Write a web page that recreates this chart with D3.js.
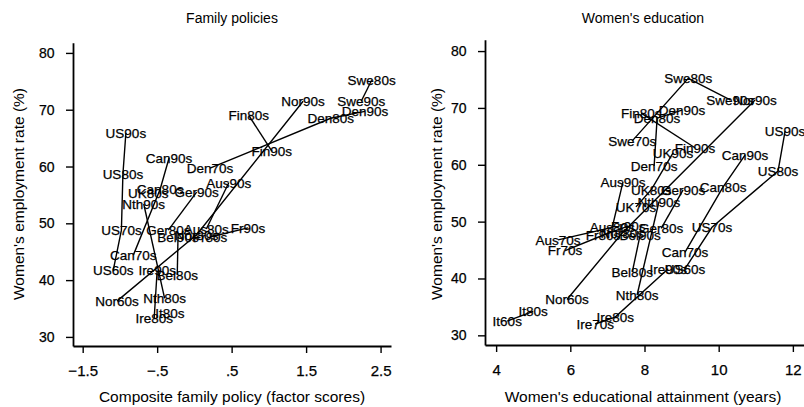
<!DOCTYPE html>
<html>
<head>
<meta charset="utf-8">
<script src="https://cdn.jsdelivr.net/npm/d3@7"></script>
<style>
  body { margin: 0; background: #fff; }
  svg { display: block; font-family: "Liberation Sans", Arial, sans-serif; }
</style>
</head>
<body>
<svg id="chart" width="804" height="407"></svg>
<script>
// Left panel: composite family policy (factor scores) vs women's employment rate
const policyLabels = ["Swe80s","Swe90s","Den70s","Den80s","Den90s","Nor60s","Nor80s","Nor90s","Fin80s","Fin90s",
  "US60s","US70s","US80s","US90s","Can70s","Can80s","Can90s","UK80s","Ger80s","Ger90s",
  "Nth80s","Nth90s","Aus80s","Aus90s","Fr80s","Fr90s","Bel80s","Bel90s","Ire80s","Ire90s","It80s"];
const policyX = [2.38,2.24,0.21,1.83,2.29,-1.04,0.03,1.46,0.73,1.04,
  -1.09,-0.98,-0.96,-0.92,-0.82,-0.46,-0.34,-0.62,-0.35,0.03,
  -0.40,-0.68,0.16,0.46,0.21,0.72,-0.23,-0.22,-0.54,-0.50,-0.33];
const policyY = [75.2,71.5,59.7,68.5,69.7,36.3,48.0,71.5,69.0,62.7,
  41.7,48.8,58.6,65.9,44.4,56.0,61.5,55.3,48.8,55.5,
  36.8,53.4,49.0,57.1,47.6,49.2,40.9,47.6,33.3,41.7,34.2];

// Right panel: women's educational attainment (years) vs women's employment rate
const eduLabels = ["Swe70s","Swe80s","Swe90s","Nor60s","Nor80s","Nor90s","Den70s","Den80s","Den90s","Fin80s","Fin90s",
  "UK70s","UK80s","UK90s","US60s","US70s","US80s","US90s","Can70s","Can80s","Can90s","Ger80s","Ger90s",
  "Nth80s","Nth90s","Aus70s","Aus80s","Aus90s","Fr70s","Fr80s","Fr90s","Bel80s","Bel90s",
  "It60s","It80s","Ire70s","Ire80s","Ire90s"];
const eduX = [7.67,9.18,10.31,5.91,7.40,10.98,8.26,8.34,9.01,7.91,9.36,
  7.77,8.18,8.77,9.09,9.82,11.60,11.79,9.09,10.12,10.71,8.45,9.04,
  7.80,8.39,5.67,7.13,7.42,5.86,6.88,7.56,7.67,7.88,
  4.30,5.00,6.67,7.21,8.64];
const eduY = [64.2,75.2,71.4,36.3,48.0,71.4,59.8,68.2,69.6,69.1,63.0,
  52.6,55.6,62.1,41.7,49.0,58.9,65.9,44.6,56.1,61.7,48.8,55.6,
  37.1,53.5,46.8,49.0,57.0,44.9,47.6,49.2,41.1,47.6,
  32.5,34.2,32.0,33.2,41.7];

const policyTicks = [-1.5,-0.5,0.5,1.5,2.5];
const policyTickText = ["\u22121.5","\u2212.5",".5","1.5","2.5"];
const eduTicks = [4,6,8,10,12];
const rateTicks = [30,40,50,60,70,80];

const svg = d3.select("#chart");

function panel(opt) {
  const g = svg.append("g");
  const x = d3.scaleLinear().domain(opt.xDomain).range(opt.xRange);
  const y = d3.scaleLinear().domain(opt.yDomain).range(opt.yRange);

  const pts = opt.labels.map((l, i) => ({
    label: l,
    country: l.replace(/\d0s$/, ""),
    decade: +l.match(/(\d)0s$/)[1],
    x: opt.xs[i], y: opt.ys[i]
  }));

  // trajectories: each country's decades joined in time order
  const byCountry = d3.groups(pts, d => d.country);
  const line = d3.line().x(d => x(d.x)).y(d => y(d.y));
  g.append("g").selectAll("path")
    .data(byCountry.map(([, v]) => v.slice().sort((a, b) => a.decade - b.decade)))
    .join("path")
    .attr("d", line)
    .attr("fill", "none")
    .attr("stroke", "#000")
    .attr("stroke-width", 1.4);

  g.append("g").selectAll("text")
    .data(pts)
    .join("text")
    .attr("x", d => x(d.x))
    .attr("y", d => y(d.y))
    .attr("dy", "0.36em")
    .attr("text-anchor", "middle")
    .attr("font-size", 13.5)
    .attr("fill", "#000")
    .attr("stroke", "#000")
    .attr("stroke-width", 0.25)
    .text(d => d.label);

  // axes
  const xAxis = d3.axisBottom(x).tickValues(opt.xTicks).tickSize(7).tickSizeOuter(0)
    .tickFormat((d, i) => opt.xTickText ? opt.xTickText[i] : d);
  const gx = g.append("g").attr("transform", `translate(0,${opt.yRange[0]})`).call(xAxis);
  gx.select(".domain").attr("stroke-width", 1.8);
  gx.selectAll(".tick line").attr("stroke-width", 1.4);
  gx.selectAll(".tick text").attr("font-size", 15).attr("dy", "1.3em")
    .attr("font-family", "Liberation Sans, Arial, sans-serif").attr("fill", "#000")
    .attr("stroke", "#000").attr("stroke-width", 0.25);

  const yAxis = d3.axisLeft(y).tickValues(rateTicks).tickSize(7).tickSizeOuter(0);
  const gy = g.append("g").attr("transform", `translate(${opt.xRange[0]},0)`).call(yAxis);
  gy.select(".domain").attr("stroke-width", 1.8);
  gy.selectAll(".tick line").attr("stroke-width", 1.4);
  gy.selectAll(".tick text").attr("font-size", 14).attr("dx", "-0.6em")
    .attr("font-family", "Liberation Sans, Arial, sans-serif").attr("fill", "#000")
    .attr("stroke", "#000").attr("stroke-width", 0.25);

  g.append("text").attr("x", opt.titleX).attr("y", 23).attr("text-anchor", "middle")
    .attr("font-size", 14).text(opt.title);
  g.append("text").attr("x", opt.titleX).attr("y", 402).attr("text-anchor", "middle")
    .attr("font-size", 15.5).text(opt.xTitle);
  g.append("text")
    .attr("transform", `translate(${opt.yTitleX},${opt.yTitleY}) rotate(-90)`)
    .attr("text-anchor", "middle").attr("font-size", 15.5).text("Women's employment rate (%)");
}

panel({
  labels: policyLabels, xs: policyX, ys: policyY,
  xDomain: [-1.63, 2.64], xRange: [73, 391],
  yDomain: [28.4, 81.8], yRange: [346, 42.7],
  xTicks: policyTicks, xTickText: policyTickText,
  title: "Family policies", xTitle: "Composite family policy (factor scores)",
  titleX: 232, yTitleX: 24, yTitleY: 194
});

panel({
  labels: eduLabels, xs: eduX, ys: eduY,
  xDomain: [3.7, 12.3], xRange: [485, 804],
  yDomain: [28.3, 82], yRange: [345, 39.7],
  xTicks: eduTicks, xTickText: null,
  title: "Women's education", xTitle: "Women's educational attainment (years)",
  titleX: 643, yTitleX: 442, yTitleY: 194
});
</script>
</body>
</html>
